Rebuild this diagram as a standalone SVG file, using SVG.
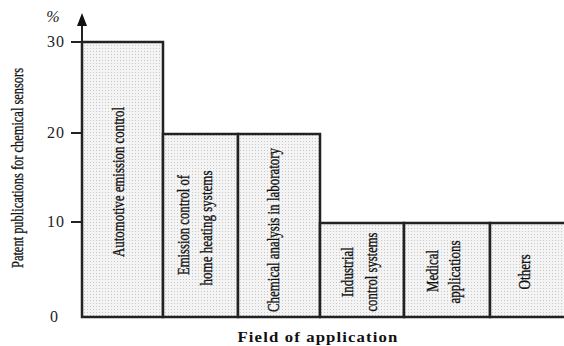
<svg xmlns="http://www.w3.org/2000/svg" width="564" height="346" viewBox="0 0 564 346">
<defs>
<pattern id="dots" width="3" height="3" patternUnits="userSpaceOnUse">
<rect width="3" height="3" fill="#f4f4f4"/>
<rect width="1" height="1" fill="#c8c8c8"/>
</pattern>
</defs>
<style>
.bar{fill:url(#dots);stroke:#222;stroke-width:2.5}
.lbl{font-family:"Liberation Serif",serif;font-size:17px;fill:#111;text-anchor:middle;stroke:#111;stroke-width:0.35}
.tick{font-family:"Liberation Serif",serif;font-size:16px;fill:#222;text-anchor:end;letter-spacing:1px}
.axis{stroke:#222;stroke-width:2;fill:none}
</style>
<rect width="564" height="346" fill="#fff"/>
<g id="bars">
<g id="bar1"><rect class="bar" x="82" y="42" width="81" height="275"/>
<text class="lbl" transform="translate(124,182) rotate(-90)" textLength="150" lengthAdjust="spacingAndGlyphs">Automotive emission control</text></g>
<g id="bar2"><rect class="bar" x="163" y="134" width="75" height="183"/>
<text class="lbl" transform="translate(189,225) rotate(-90)" textLength="100" lengthAdjust="spacingAndGlyphs">Emission control of</text>
<text class="lbl" transform="translate(212,228) rotate(-90)" textLength="115" lengthAdjust="spacingAndGlyphs">home heating systems</text></g>
<g id="bar3"><rect class="bar" x="238" y="134" width="82" height="183"/>
<text class="lbl" transform="translate(279,230) rotate(-90)" textLength="164" lengthAdjust="spacingAndGlyphs">Chemical analysis in laboratory</text></g>
<g id="bar4"><rect class="bar" x="320" y="223" width="84" height="94"/>
<text class="lbl" transform="translate(353,272) rotate(-90)" textLength="50" lengthAdjust="spacingAndGlyphs">Industrial</text>
<text class="lbl" transform="translate(377,272) rotate(-90)" textLength="79" lengthAdjust="spacingAndGlyphs">control systems</text></g>
<g id="bar5"><rect class="bar" x="404" y="223" width="86" height="94"/>
<text class="lbl" transform="translate(438,271) rotate(-90)" textLength="42" lengthAdjust="spacingAndGlyphs">Medical</text>
<text class="lbl" transform="translate(460,272) rotate(-90)" textLength="63" lengthAdjust="spacingAndGlyphs">applications</text></g>
<g id="bar6"><rect class="bar" x="490" y="223" width="78" height="94"/>
<text class="lbl" transform="translate(530,272) rotate(-90)" textLength="35" lengthAdjust="spacingAndGlyphs">Others</text></g>
</g>
<g id="axes">
<line class="axis" x1="82" y1="318" x2="82" y2="24"/>
<polygon points="77,26 82,13 87,26" fill="#111"/>
<line class="axis" x1="71" y1="42" x2="82" y2="42"/>
<line class="axis" x1="71" y1="133" x2="82" y2="133"/>
<line class="axis" x1="71" y1="222" x2="82" y2="222"/>
</g>
<g id="labels">
<text class="tick" x="65" y="47">30</text>
<text class="tick" x="65" y="138">20</text>
<text class="tick" x="65" y="227">10</text>
<text class="tick" x="59" y="322">0</text>
<text x="53" y="22" style="font-family:'Liberation Serif',serif;font-size:16px;font-style:italic;fill:#222;text-anchor:middle">%</text>
<text transform="translate(23,168) rotate(-90)" style="font-family:'Liberation Serif',serif;font-size:16px;fill:#111;text-anchor:middle;stroke:#111;stroke-width:0.3" textLength="200" lengthAdjust="spacingAndGlyphs">Patent publications for chemical sensors</text>
<text x="318" y="342" style="font-family:'Liberation Serif',serif;font-size:15px;font-weight:bold;fill:#111;text-anchor:middle;letter-spacing:1px" textLength="161" lengthAdjust="spacingAndGlyphs">Field of application</text>
</g>
</svg>
